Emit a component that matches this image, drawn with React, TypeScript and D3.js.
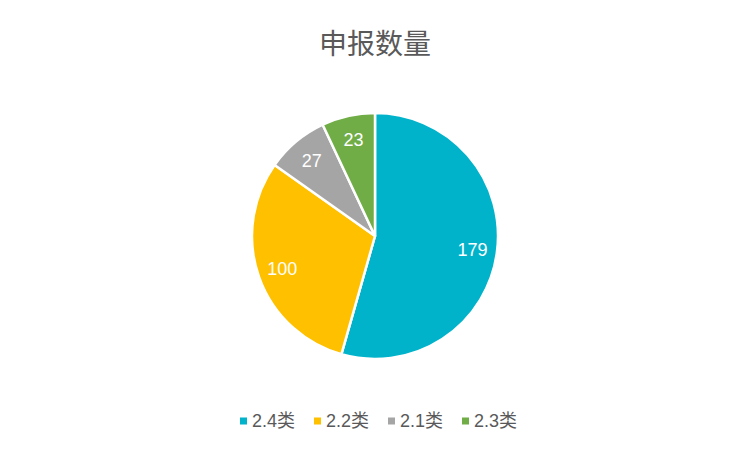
import { useEffect, useRef } from 'react';
import { select, pie as d3Pie, arc as d3Arc, scaleOrdinal, scalePoint } from 'd3';
import type { PieArcDatum } from 'd3';

const categories = ['2.4类', '2.2类', '2.1类', '2.3类'];
const values = [179, 100, 27, 23];
const colors = ['#00B3CA', '#FFC000', '#A5A5A5', '#70AD47'];
const title = '申报数量';

type Slice = { label: string; value: number };

export default function App() {
  const svgRef = useRef<SVGSVGElement | null>(null);

  useEffect(() => {
    if (!svgRef.current) return;
    const svg = select(svgRef.current);
    svg.selectAll('*').remove();

    const width = 750;
    const height = 449;
    const cx = 375;
    const cy = 236;
    const radius = 123;
    const data: Slice[] = categories.map((c, i) => ({ label: c, value: values[i] }));

    svg.attr('viewBox', `0 0 ${width} ${height}`);
    svg.append('rect').attr('width', width).attr('height', height).attr('fill', '#fff');

    // title
    svg
      .append('text')
      .attr('x', width / 2)
      .attr('y', 42)
      .attr('text-anchor', 'middle')
      .attr('dominant-baseline', 'central')
      .attr('font-family', '"Noto Sans CJK SC", sans-serif')
      .attr('font-size', 28)
      .attr('fill', '#595959')
      .text(title);

    const color = scaleOrdinal<string, string>().domain(categories).range(colors);
    const pieGen = d3Pie<Slice>()
      .sort(null)
      .value((d) => d.value);
    const arcGen = d3Arc<PieArcDatum<Slice>>().innerRadius(0).outerRadius(radius);
    const labelArc = d3Arc<PieArcDatum<Slice>>().innerRadius(radius * 0.8).outerRadius(radius * 0.8);
    const arcs = pieGen(data);

    const g = svg.append('g').attr('transform', `translate(${cx},${cy})`);
    g.selectAll('path')
      .data(arcs)
      .join('path')
      .attr('d', (d) => arcGen(d) ?? '')
      .attr('fill', (d) => color(d.data.label))
      .attr('stroke', '#fff')
      .attr('stroke-width', 2.5)
      .attr('stroke-linejoin', 'round');

    g.selectAll('text.lbl')
      .data(arcs)
      .join('text')
      .attr('class', 'lbl')
      .attr('transform', (d) => `translate(${labelArc.centroid(d)})`)
      .attr('text-anchor', 'middle')
      .attr('dominant-baseline', 'central')
      .attr('font-family', '"Liberation Sans", Arial, sans-serif')
      .attr('font-size', 18)
      .attr('fill', '#fff')
      .text((d) => String(d.data.value));

    // legend
    const lx = scalePoint<string>().domain(categories).range([240, 462]);
    const legend = svg
      .append('g')
      .selectAll('g')
      .data(categories)
      .join('g')
      .attr('transform', (d) => `translate(${lx(d)},421)`);
    legend
      .append('rect')
      .attr('x', 0)
      .attr('y', -3.5)
      .attr('width', 7)
      .attr('height', 7)
      .attr('fill', (d) => color(d));
    legend
      .append('text')
      .attr('x', 12)
      .attr('y', 0)
      .attr('dominant-baseline', 'central')
      .attr('font-family', '"Liberation Sans", "Noto Sans CJK SC", sans-serif')
      .attr('font-size', 18)
      .attr('fill', '#595959')
      .text((d) => d);
  }, []);

  return (
    <svg
      ref={svgRef}
      width={750}
      height={449}
      style={{ position: 'absolute', left: 0, top: 0, display: 'block' }}
      role="img"
      aria-label="Pie chart"
    />
  );
}
